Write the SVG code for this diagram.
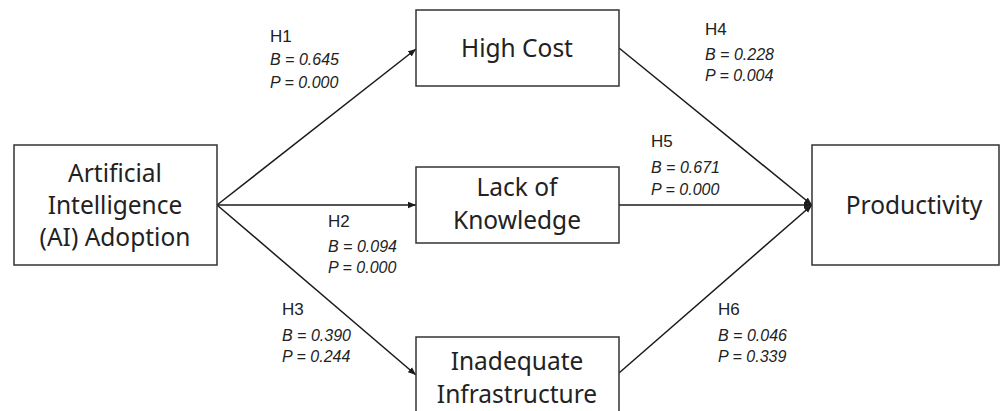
<svg xmlns="http://www.w3.org/2000/svg" width="1002" height="411" viewBox="0 0 1002 411">
<defs>
<marker id="arr" viewBox="0 0 10 10" refX="10" refY="5" markerWidth="8" markerHeight="8" markerUnits="userSpaceOnUse" orient="auto">
<path d="M0,1 L10,5 L0,9 Z" fill="#1a1a1a"/>
</marker>
<style>
.box{fill:#fff;stroke:#333;stroke-width:1.5}
.nt{font-family:"Noto Sans","Open Sans",sans-serif;font-size:24.5px;fill:#222;text-anchor:middle}
.h{font-family:"Liberation Sans",Arial,sans-serif;font-size:17px;fill:#222}
.v{font-family:"Liberation Sans",Arial,sans-serif;font-size:16px;font-style:italic;fill:#222}
.c{stroke:#1a1a1a;stroke-width:1.5;fill:none;marker-end:url(#arr)}
</style>
</defs>
<rect width="1002" height="411" fill="#fff"/>
<g id="connectors">
<line class="c" x1="217" y1="205" x2="416" y2="49"/>
<line class="c" x1="217" y1="205" x2="416" y2="205"/>
<line class="c" x1="217" y1="205" x2="416" y2="375"/>
<line class="c" x1="619" y1="48" x2="812" y2="205"/>
<line class="c" x1="619" y1="205" x2="812" y2="205"/>
<line class="c" x1="619" y1="373" x2="812" y2="205"/>
</g>
<g id="node-ai">
<rect class="box" x="14" y="145" width="203" height="120"/>
<text class="nt" x="115" y="182">Artificial</text>
<text class="nt" x="115" y="214">Intelligence</text>
<text class="nt" x="115" y="246">(AI) Adoption</text>
</g>
<g id="node-highcost">
<rect class="box" x="416" y="10" width="203" height="76"/>
<text class="nt" x="517" y="57">High Cost</text>
</g>
<g id="node-knowledge">
<rect class="box" x="416" y="167" width="203" height="76"/>
<text class="nt" x="517" y="196">Lack of</text>
<text class="nt" x="517" y="229">Knowledge</text>
</g>
<g id="node-infra">
<rect class="box" x="416" y="337" width="203" height="80"/>
<text class="nt" x="517" y="370">Inadequate</text>
<text class="nt" x="517" y="403">Infrastructure</text>
</g>
<g id="node-productivity">
<rect class="box" x="812" y="145" width="187" height="120"/>
<text class="nt" x="914" y="214">Productivity</text>
</g>
<g id="labels">
<text class="h" x="270" y="42">H1</text>
<text class="v" x="270" y="65">B = 0.645</text>
<text class="v" x="270" y="88">P = 0.000</text>
<text class="h" x="705" y="35">H4</text>
<text class="v" x="705" y="60">B = 0.228</text>
<text class="v" x="705" y="81">P = 0.004</text>
<text class="h" x="651" y="147">H5</text>
<text class="v" x="651" y="173">B = 0.671</text>
<text class="v" x="651" y="195">P = 0.000</text>
<text class="h" x="328" y="227">H2</text>
<text class="v" x="328" y="252">B = 0.094</text>
<text class="v" x="328" y="273">P = 0.000</text>
<text class="h" x="282" y="315">H3</text>
<text class="v" x="282" y="341">B = 0.390</text>
<text class="v" x="282" y="362">P = 0.244</text>
<text class="h" x="718" y="315">H6</text>
<text class="v" x="718" y="341">B = 0.046</text>
<text class="v" x="718" y="362">P = 0.339</text>
</g>
</svg>
